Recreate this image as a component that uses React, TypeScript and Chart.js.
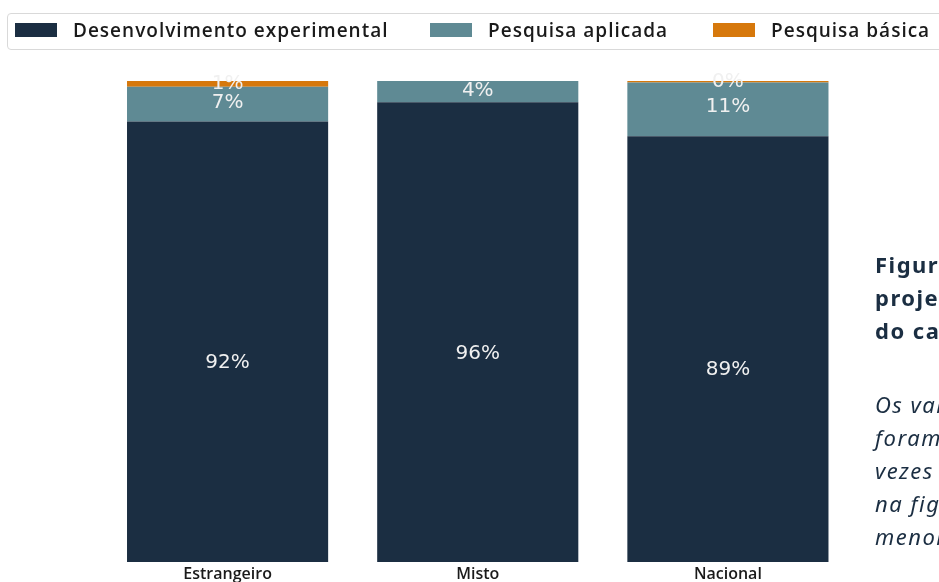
import React, { useEffect, useRef } from "react";
import { Chart, registerables } from "chart.js";

Chart.register(...registerables);

const categories = ["Estrangeiro", "Misto", "Nacional"];
const seriesNames = ["Desenvolvimento experimental", "Pesquisa aplicada", "Pesquisa básica"];
const desenvolvimento = [91.6, 95.6, 88.5];
const aplicada = [7.2, 4.4, 11.2];
const basica: (number | null)[] = [1.2, null, 0.3];
const seriesColors = ["#1b2e42", "#5f8a94", "#d6780c"];

const captionTitle = ["Figura", "projetos", "do capital"];
const captionBody = ["Os valores", "foram", "vezes", "na figura", "menores"];

const legendLeft = [15, 430, 713];

const segLabels = {
  id: "segLabels",
  afterDatasetsDraw(chart: any) {
    const ctx = chart.ctx;
    ctx.save();
    ctx.font = "20px 'DejaVu Sans'";
    ctx.fillStyle = "#f0f0f0";
    ctx.textAlign = "center";
    ctx.textBaseline = "middle";
    chart.data.datasets.forEach((ds: any, di: number) => {
      const meta = chart.getDatasetMeta(di);
      meta.data.forEach((bar: any, i: number) => {
        const v = ds.data[i];
        if (v == null) return;
        const p = bar.getProps(["x", "y", "base"], true);
        const h = p.base - p.y;
        const cy = di === 0 ? p.base - h * 0.452 : p.y + h * 0.455;
        ctx.fillText(Math.round(v) + "%", p.x, cy);
      });
    });
    ctx.restore();
  },
};

export default function App() {
  const ref = useRef<HTMLCanvasElement | null>(null);
  useEffect(() => {
    if (!ref.current) return;
    const chart = new Chart(ref.current, {
      type: "bar",
      data: {
        labels: categories,
        datasets: [
          { label: seriesNames[0], data: desenvolvimento, backgroundColor: seriesColors[0] },
          { label: seriesNames[1], data: aplicada, backgroundColor: seriesColors[1] },
          { label: seriesNames[2], data: basica, backgroundColor: seriesColors[2] },
        ],
      },
      options: {
        animation: false,
        responsive: false,
        devicePixelRatio: 1,
        layout: { padding: { left: 102.5, right: 86, top: 81, bottom: 0 } },
        datasets: { bar: { categoryPercentage: 1, barPercentage: 0.804 } },
        plugins: { legend: { display: false }, tooltip: { enabled: false } },
        scales: {
          x: {
            stacked: true,
            grid: { display: false, drawTicks: false },
            border: { display: false },
            ticks: {
              padding: 3,
              color: "#1a1a1a",
              font: { family: "'Open Sans'", size: 16, weight: "600" },
            },
            afterFit: (s: any) => {
              s.height = 20;
            },
          },
          y: { stacked: true, display: false, min: 0, max: 100 },
        },
      },
      plugins: [segLabels],
    } as any);
    return () => chart.destroy();
  }, []);

  return (
    <div
      style={{
        position: "fixed",
        left: 0,
        top: 0,
        width: 939,
        height: 582,
        overflow: "hidden",
        background: "#ffffff",
      }}
    >
      <canvas ref={ref} width={939} height={582} style={{ position: "absolute", left: 0, top: 0 }} />
      <div
        style={{
          position: "absolute",
          left: 7,
          top: 13,
          width: 960,
          height: 37,
          border: "1px solid #d9d9d9",
          borderRadius: 4,
          boxSizing: "border-box",
        }}
      />
      {seriesNames.map((n, i) => (
        <div
          key={n}
          style={{
            position: "absolute",
            left: legendLeft[i],
            top: 16,
            height: 28,
            display: "flex",
            alignItems: "center",
            whiteSpace: "nowrap",
            fontFamily: "'Open Sans'",
            fontWeight: 600,
            fontSize: 19,
            letterSpacing: "1px",
            color: "#1a1a1a",
          }}
        >
          <span style={{ display: "inline-block", width: 42, height: 14, background: seriesColors[i], marginRight: 16 }} />
          <span>{n}</span>
        </div>
      ))}
      <div
        style={{
          position: "absolute",
          left: 875,
          top: 248,
          whiteSpace: "nowrap",
          fontFamily: "'Noto Sans'",
          fontWeight: 700,
          fontSize: 22,
          letterSpacing: "1.5px",
          lineHeight: "33px",
          color: "#1b2e42",
        }}
      >
        {captionTitle.map((t) => (
          <div key={t}>{t}</div>
        ))}
      </div>
      <div
        style={{
          position: "absolute",
          left: 875,
          top: 388,
          whiteSpace: "nowrap",
          fontFamily: "'Noto Sans'",
          fontStyle: "italic",
          fontWeight: 400,
          fontSize: 22,
          letterSpacing: "1.5px",
          lineHeight: "33px",
          color: "#1b2e42",
        }}
      >
        {captionBody.map((t) => (
          <div key={t}>{t}</div>
        ))}
      </div>
    </div>
  );
}
